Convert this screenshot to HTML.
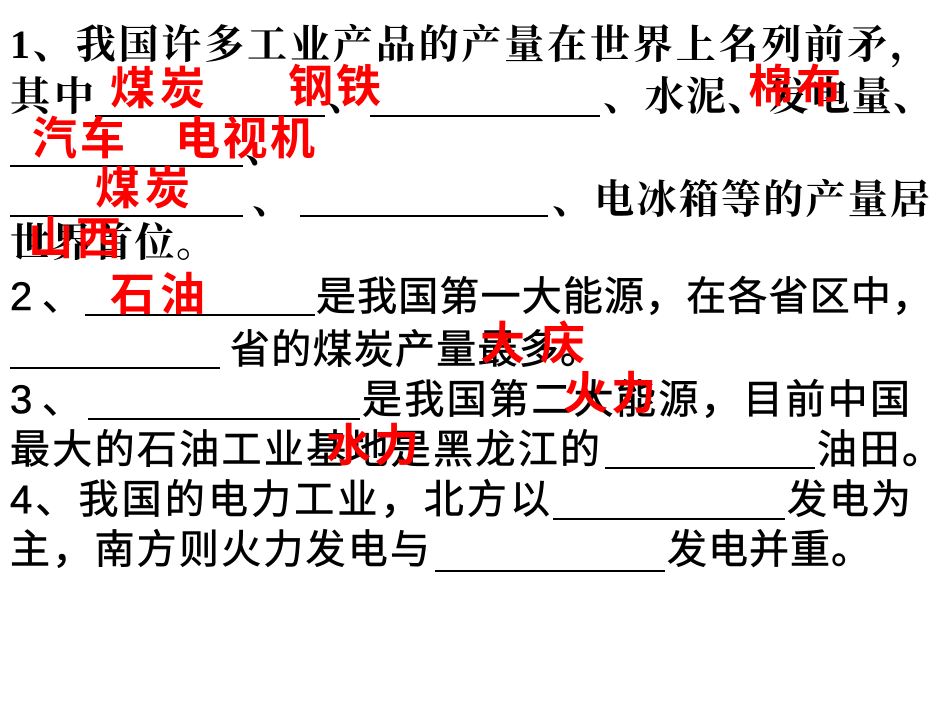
<!DOCTYPE html>
<html><head><meta charset="utf-8"><style>
body{margin:0;width:950px;height:713px;background:#fff;position:relative;overflow:hidden}
.t{position:absolute;height:44px;line-height:44px;font-size:40px;text-align:justify;text-align-last:justify;color:#000;font-family:"Liberation Serif","Noto Serif CJK SC",serif;font-weight:bold}
.s{font-family:"Liberation Sans","Noto Sans CJK SC",sans-serif;font-weight:normal;-webkit-text-stroke:0.6px #000}
.r{position:absolute;height:50px;line-height:50px;font-size:45px;text-align:justify;text-align-last:justify;color:#f00;font-family:"Liberation Sans","Noto Sans CJK SC",sans-serif;font-weight:bold}
.u{position:absolute;height:2px;background:#000}
</style></head><body>
<div class="t" style="left:10px;top:23px;width:920px">1、我国许多工业产品的产量在世界上名列前矛，</div>
<div class="t" style="left:10px;top:75px;width:84px">其中</div>
<div class="u" style="left:95px;top:115px;width:230px"></div>
<div class="t" style="left:327px;top:75px;width:42px">、</div>
<div class="u" style="left:370px;top:115px;width:230px"></div>
<div class="t" style="left:603px;top:75px;width:330px">、水泥、发电量、</div>
<div class="u" style="left:10px;top:165px;width:233px"></div>
<div class="t" style="left:245px;top:127px;width:42px">、</div>
<div class="u" style="left:10px;top:215px;width:233px"></div>
<div class="t" style="left:252px;top:178px;width:42px">、</div>
<div class="u" style="left:300px;top:215px;width:248px"></div>
<div class="t" style="left:552px;top:178px;width:378px">、电冰箱等的产量居</div>
<div class="t" style="left:10px;top:221px;width:206px">世界首位。</div>

<div class="t s" style="left:10px;top:275px;width:72px">2、</div>
<div class="u" style="left:85px;top:314px;width:230px"></div>
<div class="t s" style="left:316px;top:275px;width:616px">是我国第一大能源，在各省区中，</div>
<div class="u" style="left:10px;top:367px;width:210px"></div>
<div class="t s" style="left:230px;top:328px;width:370px">省的煤炭产量最多。</div>
<div class="t s" style="left:10px;top:378px;width:72px">3、</div>
<div class="u" style="left:88px;top:418px;width:272px"></div>
<div class="t s" style="left:362px;top:378px;width:548px">是我国第二大能源，目前中国</div>
<div class="t s" style="left:10px;top:428px;width:590px">最大的石油工业基地是黑龙江的</div>
<div class="u" style="left:605px;top:467px;width:210px"></div>
<div class="t s" style="left:817px;top:428px;width:125px">油田。</div>
<div class="t s" style="left:10px;top:478px;width:540px">4、我国的电力工业，北方以</div>
<div class="u" style="left:553px;top:518px;width:232px"></div>
<div class="t s" style="left:787px;top:478px;width:124px">发电为</div>
<div class="t s" style="left:10px;top:528px;width:420px">主，南方则火力发电与</div>
<div class="u" style="left:435px;top:570px;width:230px"></div>
<div class="t s" style="left:667px;top:528px;width:204px">发电并重。</div>

<div class="r" style="left:110px;top:64px;width:95px">煤炭</div>
<div class="r" style="left:288px;top:62px;width:93px">钢铁</div>
<div class="r" style="left:748px;top:62px;width:93px">棉布</div>
<div class="r" style="left:32px;top:114px;width:93px">汽车</div>
<div class="r" style="left:175px;top:114px;width:140px">电视机</div>
<div class="r" style="left:95px;top:164px;width:95px">煤炭</div>
<div class="r" style="left:28px;top:214px;width:93px">山西</div>
<div class="r" style="left:110px;top:270px;width:95px">石油</div>
<div class="r" style="left:480px;top:319px;width:105px">大庆</div>
<div class="r" style="left:563px;top:369px;width:93px">火力</div>
<div class="r" style="left:326px;top:421px;width:93px">水力</div>
</body></html>
